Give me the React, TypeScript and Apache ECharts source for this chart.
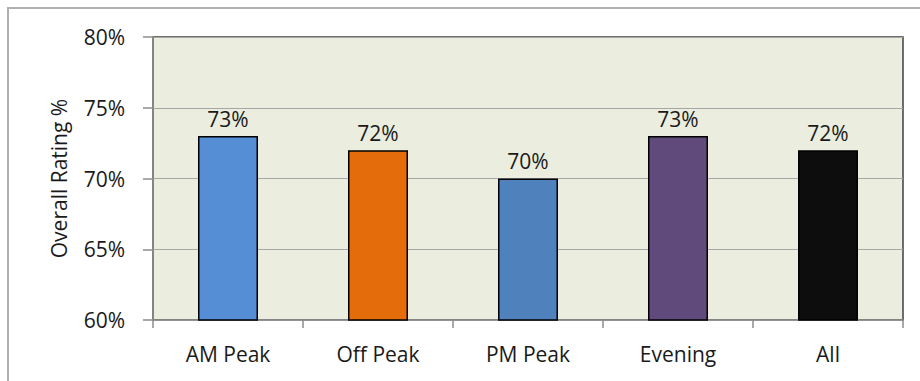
import React, { useEffect, useRef } from "react";
import * as echarts from "echarts";

const categories = ["AM Peak", "Off Peak", "PM Peak", "Evening", "All"];
const ratings = [73, 72, 70, 73, 72];
const barColors = ["#558ED5", "#E46C0A", "#4F81BD", "#604A7B", "#0D0D0D"];
const yTicks = { min: 60, max: 80, interval: 5 };

export default function App() {
  const ref = useRef<HTMLDivElement>(null);
  useEffect(() => {
    if (!ref.current) return;
    const chart = echarts.init(ref.current, undefined, { renderer: "svg" });
    const font = "'Open Sans', 'Noto Sans', sans-serif";
    chart.setOption({
      animation: false,
      backgroundColor: "#FFFFFF",
      graphic: [
        {
          type: "rect",
          shape: { x: 8, y: 8, width: 1000, height: 500 },
          style: { fill: "none", stroke: "#B0B0B0", lineWidth: 2 },
          silent: true,
        },
      ],
      grid: {
        left: 153,
        right: 17,
        top: 37,
        bottom: 61,
        show: true,
        backgroundColor: "#EBEEDF",
        borderColor: "#404040",
        borderWidth: 1.5,
      },
      xAxis: {
        type: "category",
        data: categories,
        axisLine: { show: true, lineStyle: { color: "#8C8C8C", width: 1.5 } },
        axisTick: { show: true, length: 8, lineStyle: { color: "#8C8C8C", width: 1.5 } },
        axisLabel: { color: "#1A1A1A", fontSize: 21, fontFamily: font, margin: 23 },
        splitLine: { show: false },
      },
      yAxis: {
        type: "value",
        min: yTicks.min,
        max: yTicks.max,
        interval: yTicks.interval,
        name: "Overall Rating %",
        nameLocation: "middle",
        nameGap: 84,
        nameTextStyle: { color: "#1A1A1A", fontSize: 21, fontFamily: font },
        axisLine: { show: true, lineStyle: { color: "#8C8C8C", width: 1.5 } },
        axisTick: { show: true, length: 10, lineStyle: { color: "#8C8C8C", width: 1.5 } },
        axisLabel: {
          color: "#1A1A1A",
          fontSize: 21,
          fontFamily: font,
          margin: 28,
          formatter: (v: number) => v + "%",
        },
        splitLine: { show: true, lineStyle: { color: "#A6A6A6", width: 1 } },
      },
      series: [
        {
          type: "bar",
          barWidth: "40%",
          data: ratings.map((v, i) => ({
            value: v,
            itemStyle: { color: barColors[i], borderColor: "#000000", borderWidth: 1.5 },
          })),
          label: {
            show: true,
            position: "top",
            distance: 7,
            color: "#1A1A1A",
            fontSize: 21,
            fontFamily: font,
            formatter: (p: any) => p.value + "%",
          },
        },
      ],
    });
    return () => chart.dispose();
  }, []);
  return (
    <div
      ref={ref}
      style={{ position: "fixed", left: 0, top: 0, width: 920, height: 381 }}
    />
  );
}
